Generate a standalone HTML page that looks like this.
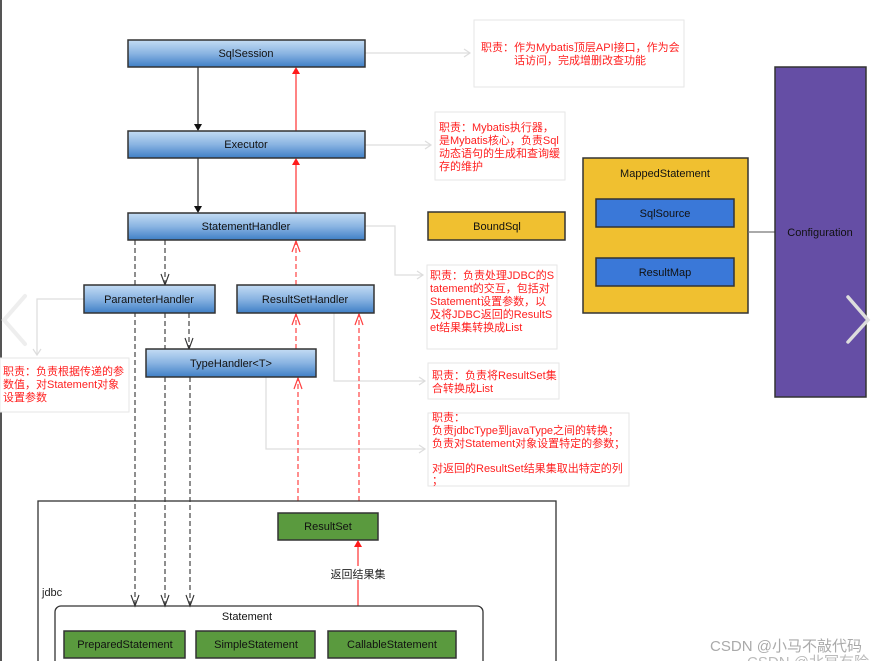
<!DOCTYPE html>
<html><head><meta charset="utf-8"><style>
html,body{margin:0;padding:0;background:#fff;}
svg{display:block;}
text{font-family:"Liberation Sans","Noto Sans CJK SC",sans-serif;}
</style></head><body>
<svg width="871" height="661" viewBox="0 0 871 661" xmlns="http://www.w3.org/2000/svg">
<defs>
<linearGradient id="bl" x1="0" y1="0" x2="0" y2="1">
<stop offset="0" stop-color="#c4dcf4"/><stop offset="0.5" stop-color="#8ab4e2"/><stop offset="1" stop-color="#3f7fc6"/>
</linearGradient>
</defs>
<rect x="0" y="0" width="871" height="661" fill="#fff"/>
<line x1="1" y1="0" x2="1" y2="661" stroke="#555" stroke-width="2"/>

<g stroke="#ddd" stroke-width="1.2" fill="none">
<path d="M365,53 H470"/><path d="M464,49 L470,53 L464,57"/>
<path d="M365,145 H431"/><path d="M425,141 L431,145 L425,149"/>
<path d="M365,226 H395 V275 H423"/><path d="M417,271 L423,275 L417,279"/>
<path d="M334,313 V381 H425"/><path d="M419,377 L425,381 L419,385"/>
<path d="M266,377 V449 H425"/><path d="M419,445 L425,449 L419,453"/>
<path d="M84,299 H37 V355"/><path d="M33,349 L37,355 L41,349"/>
</g>

<g fill="#fff" stroke="#e6e6e6" stroke-width="1">
<rect x="474" y="20" width="210" height="67"/>
<rect x="435" y="112" width="130" height="68"/>
<rect x="427" y="265" width="130" height="84"/>
<rect x="428" y="363" width="131" height="36"/>
<rect x="428" y="413" width="201" height="73"/>
<rect x="0" y="358" width="129" height="54"/>
</g>
<g fill="#ff2020" font-size="11">
<text x="481" y="51">职责：作为Mybatis顶层API接口，作为会</text>
<text x="514" y="64">话访问，完成增删改查功能</text>
<text x="439" y="131">职责：Mybatis执行器，</text>
<text x="439" y="144">是Mybatis核心，负责Sql</text>
<text x="439" y="157">动态语句的生成和查询缓</text>
<text x="439" y="170">存的维护</text>
<text x="430" y="279">职责：负责处理JDBC的S</text>
<text x="430" y="292">tatement的交互，包括对</text>
<text x="430" y="305">Statement设置参数，以</text>
<text x="430" y="318">及将JDBC返回的ResultS</text>
<text x="430" y="331">et结果集转换成List</text>
<text x="432" y="379">职责：负责将ResultSet集</text>
<text x="432" y="392">合转换成List</text>
<text x="432" y="421">职责：</text>
<text x="432" y="434">负责jdbcType到javaType之间的转换；</text>
<text x="432" y="447">负责对Statement对象设置特定的参数；</text>
<text x="432" y="472">对返回的ResultSet结果集取出特定的列</text>
<text x="432" y="484">；</text>
<text x="3" y="375">职责：负责根据传递的参</text>
<text x="3" y="388">数值，对Statement对象</text>
<text x="3" y="401">设置参数</text>
</g>

<g stroke="#333" stroke-width="1.3">
<line x1="198" y1="67" x2="198" y2="124"/>
<line x1="198" y1="158" x2="198" y2="206"/>
</g>
<path d="M194,124 L202,124 L198,131z" fill="#111"/>
<path d="M194,206 L202,206 L198,213z" fill="#111"/>

<g stroke="#ff4040" stroke-width="1.3">
<line x1="296" y1="131" x2="296" y2="74"/>
<line x1="296" y1="213" x2="296" y2="165"/>
<line x1="358" y1="606" x2="358" y2="547"/>
</g>
<path d="M292,74 L300,74 L296,67z" fill="#ff1a1a"/>
<path d="M292,165 L300,165 L296,158z" fill="#ff1a1a"/>
<path d="M354,547 L362,547 L358,540z" fill="#ff1a1a"/>
<rect x="330" y="566" width="56" height="14" fill="#fff"/>
<text x="358" y="578" font-size="11" text-anchor="middle" fill="#222">返回结果集</text>

<g stroke="#ff5050" stroke-width="1.3" stroke-dasharray="5,3" fill="none">
<line x1="296" y1="285" x2="296" y2="241"/>
<line x1="296" y1="349" x2="296" y2="314"/>
<line x1="298" y1="501" x2="298" y2="378"/>
<line x1="359" y1="501" x2="359" y2="314"/>
</g>
<g stroke="#ff4040" stroke-width="1.2" fill="none">
<path d="M292,252 L296,241 L300,252"/>
<path d="M292,325 L296,314 L300,325"/>
<path d="M294,389 L298,378 L302,389"/>
<path d="M355,325 L359,314 L363,325"/>
</g>

<g stroke="#444" stroke-width="1.2" stroke-dasharray="5,3" fill="none">
<line x1="135" y1="240" x2="135" y2="605"/>
<line x1="165" y1="240" x2="165" y2="284"/>
<line x1="165" y1="313" x2="165" y2="605"/>
<line x1="189" y1="313" x2="189" y2="348"/>
<line x1="190" y1="377" x2="190" y2="605"/>
</g>
<g stroke="#333" stroke-width="1.1" fill="none">
<path d="M131,595 L135,606 L139,595"/>
<path d="M161,595 L165,606 L169,595"/>
<path d="M186,595 L190,606 L194,595"/>
<path d="M161,274 L165,285 L169,274"/>
<path d="M185,338 L189,349 L193,338"/>
</g>

<g stroke="#333" stroke-width="1.5" fill="url(#bl)">
<rect x="128" y="40" width="237" height="27"/>
<rect x="128" y="131" width="237" height="27"/>
<rect x="128" y="213" width="237" height="27"/>
<rect x="84" y="285" width="131" height="28"/>
<rect x="237" y="285" width="137" height="28"/>
<rect x="146" y="349" width="170" height="28"/>
</g>
<g font-size="11" fill="#111" text-anchor="middle">
<text x="246" y="57">SqlSession</text>
<text x="246" y="148">Executor</text>
<text x="246" y="230">StatementHandler</text>
<text x="149" y="303">ParameterHandler</text>
<text x="305" y="303">ResultSetHandler</text>
<text x="231" y="367">TypeHandler&lt;T&gt;</text>
</g>

<rect x="38" y="501" width="518" height="170" fill="none" stroke="#333" stroke-width="1.3"/>
<text x="42" y="596" font-size="11" fill="#222">jdbc</text>
<rect x="55" y="606" width="428" height="70" rx="6" fill="none" stroke="#333" stroke-width="1.3"/>
<text x="247" y="620" font-size="11" fill="#111" text-anchor="middle">Statement</text>
<g fill="#5a9a3e" stroke="#333" stroke-width="1.5">
<rect x="278" y="513" width="100" height="27"/>
<rect x="64" y="631" width="121" height="27"/>
<rect x="196" y="631" width="119" height="27"/>
<rect x="328" y="631" width="128" height="27"/>
</g>
<g font-size="11" fill="#111" text-anchor="middle">
<text x="328" y="530">ResultSet</text>
<text x="125" y="648">PreparedStatement</text>
<text x="256" y="648">SimpleStatement</text>
<text x="392" y="648">CallableStatement</text>
</g>

<rect x="428" y="212" width="137" height="28" fill="#f0c030" stroke="#333" stroke-width="1.5"/>
<text x="497" y="230" font-size="11" fill="#111" text-anchor="middle">BoundSql</text>
<rect x="583" y="158" width="165" height="155" fill="#f0c030" stroke="#333" stroke-width="1.5"/>
<text x="665" y="177" font-size="11" fill="#111" text-anchor="middle">MappedStatement</text>
<rect x="596" y="199" width="138" height="28" fill="#3a78d8" stroke="#333" stroke-width="1.5"/>
<rect x="596" y="258" width="138" height="28" fill="#3a78d8" stroke="#333" stroke-width="1.5"/>
<text x="665" y="217" font-size="11" fill="#111" text-anchor="middle">SqlSource</text>
<text x="665" y="276" font-size="11" fill="#111" text-anchor="middle">ResultMap</text>
<line x1="748" y1="232" x2="775" y2="232" stroke="#777" stroke-width="1.3"/>
<rect x="775" y="67" width="91" height="330" fill="#654ea5" stroke="#333" stroke-width="1.5"/>
<text x="820" y="236" font-size="11" fill="#111" text-anchor="middle">Configuration</text>

<path d="M25,296 L4,320 L25,344" fill="none" stroke="#eee" stroke-width="4" stroke-linecap="round"/>
<path d="M848,297 L868,320 L848,342" fill="none" stroke="#ddd" stroke-width="3.5" stroke-linecap="round"/>

<text x="786" y="651" font-size="15" fill="#aaa" text-anchor="middle">CSDN @小马不敲代码</text>
<text x="808" y="667" font-size="15" fill="#bbb" text-anchor="middle">CSDN @北冥有险</text>
</svg>
</body></html>
